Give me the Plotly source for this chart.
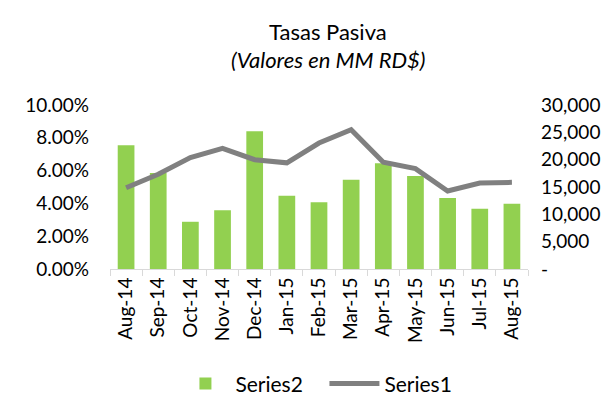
import plotly.graph_objects as go

categories = ["Aug-14", "Sep-14", "Oct-14", "Nov-14", "Dec-14", "Jan-15", "Feb-15",
              "Mar-15", "Apr-15", "May-15", "Jun-15", "Jul-15", "Aug-15"]
series2_rates = [0.0754, 0.0585, 0.0288, 0.0358, 0.0840, 0.0446, 0.0407,
                 0.0544, 0.0645, 0.0567, 0.0433, 0.0367, 0.0398]
series1_values = [14860, 17320, 20400, 22050, 20000, 19420, 23040,
                  25490, 19530, 18370, 14270, 15730, 15850]
left_ticks = [0, 0.02, 0.04, 0.06, 0.08, 0.10]
right_ticks = [0, 5000, 10000, 15000, 20000, 25000, 30000]
right_ticktext = ["-", "5,000", "10,000", "15,000", "20,000", "25,000", "30,000"]

FONT = "Lato"
fig = go.Figure()
fig.add_trace(go.Bar(x=categories, y=series2_rates, name="Series2",
                     marker=dict(color="#92D050", line=dict(width=0)), width=0.52,
                     yaxis="y"))
fig.add_trace(go.Scatter(x=categories, y=series1_values, name="Series1", mode="lines",
                         line=dict(color="#808080", width=5), yaxis="y2"))

fig.update_layout(
    width=616, height=408,
    margin=dict(l=102, r=96, t=97, b=140),
    paper_bgcolor="white", plot_bgcolor="white",
    font=dict(family=FONT, size=19, color="#000000"),
    showlegend=True,
    legend=dict(orientation="h", x=0.513, xanchor="center", y=-0.70, yanchor="middle",
                font=dict(size=21), traceorder="normal", itemwidth=50,
                entrywidth=84, entrywidthmode="pixels"),
    xaxis=dict(type="category", showgrid=False, showline=True, linecolor="#d9d9d9",
               ticks="outside", tickson="boundaries", ticklen=6, tickcolor="#d9d9d9",
               tickangle=-90, tickfont=dict(size=19)),
    yaxis=dict(range=[0, 0.10], tickvals=left_ticks, tickformat=".2%", showgrid=False,
               zeroline=False, showline=False, ticklabelstandoff=20,
               tickfont=dict(size=19)),
    yaxis2=dict(range=[0, 30000], tickvals=right_ticks, ticktext=right_ticktext,
                overlaying="y", side="right", showgrid=False, zeroline=False,
                showline=False, ticklabelstandoff=12, tickfont=dict(size=19)),
    bargap=0.48,
    annotations=[
        dict(text="Tasas Pasiva", xref="paper", yref="paper", x=(320 - 102) / 418,
             y=(268 - 20) / 171, xanchor="center", yanchor="middle", showarrow=False,
             font=dict(size=22, family=FONT)),
        dict(text="<i>(Valores en MM RD$)</i>", xref="paper", yref="paper",
             x=(320 - 102) / 418, y=(268 - 50) / 171, xanchor="center",
             yanchor="middle", showarrow=False, font=dict(size=22, family=FONT)),
    ],
)

fig.write_html("out.html")
